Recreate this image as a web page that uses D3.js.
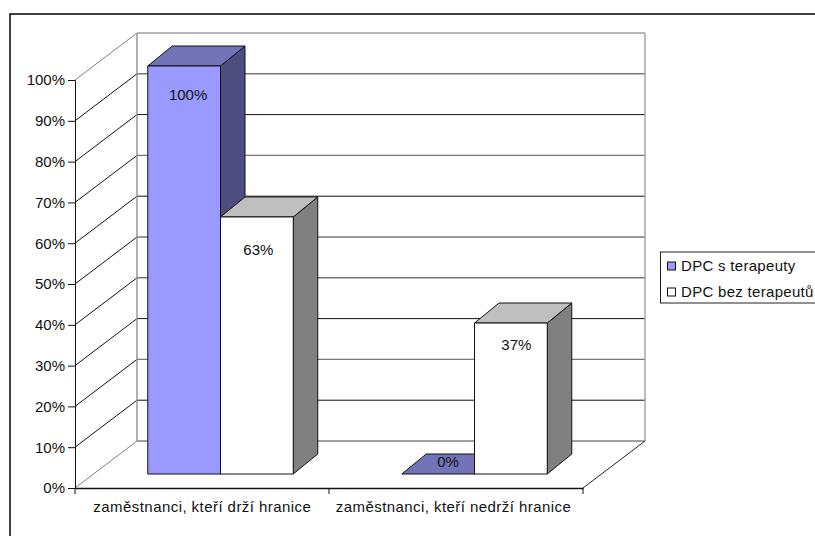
<!DOCTYPE html>
<html>
<head>
<meta charset="utf-8">
<script src="https://cdn.jsdelivr.net/npm/d3@7/dist/d3.min.js"></script>
<style>
html,body{margin:0;padding:0;background:#fff}
svg{display:block}
text{font-family:"Liberation Sans",Arial,sans-serif;fill:#111}
</style>
</head>
<body>
<svg id="chart" width="815" height="536"></svg>
<script>
const categories = ["zaměstnanci, kteří drží hranice", "zaměstnanci, kteří nedrží hranice"];
const seriesNames = ["DPC s terapeuty", "DPC bez terapeutů"];
const withTherapists = [100, 0];
const withoutTherapists = [63, 37];
const percentTicks = [0, 10, 20, 30, 40, 50, 60, 70, 80, 90, 100];
// Back-wall gridlines that render as solid dark rather than soft gray
const darkGridTicks = [10, 30, 60, 80];

// Face colours of each series: front, top, side
const faces = [
  {front: "#9999ff", top: "#7373b8", side: "#4d4d80"},
  {front: "#ffffff", top: "#bfbfbf", side: "#808080"}
];

// Oblique projection of the 3D box
const wallDx = 62, wallDy = -47;     // front plane to back wall
const barDx = 24.5, barDy = -20;     // depth of one bar
const floorDx = 18.5, floorDy = -14; // bars sit this far behind the front edge

const svg = d3.select("#chart");
const x = d3.scaleBand().domain(categories).range([75, 583]);
const y = d3.scaleLinear().domain([0, 100]).range([488, 80]);
const groupWidth = 145.5;
const xSeries = d3.scaleBand().domain(seriesNames)
  .range([(x.bandwidth() - groupWidth) / 2 + floorDx, (x.bandwidth() + groupWidth) / 2 + floorDx]);

const FS = 15;
const [plotL, plotR] = x.range();
const y0 = y(0), y100 = y(100);

// Chart frame (right and bottom edges fall outside the page)
svg.append("rect").attr("x", 10).attr("y", 14).attr("width", 900).attr("height", 600)
  .attr("fill", "#fff").attr("stroke", "#111").attr("stroke-width", 1.6);

const seg = (a, b, c, d, col, w = 1) => svg.append("line")
  .attr("x1", a).attr("y1", b).attr("x2", c).attr("y2", d)
  .attr("stroke", col).attr("stroke-width", w);

// Gridlines on the side and back walls
percentTicks.forEach(t => {
  const gray = t === 0 || t === 100;
  seg(plotL, y(t), plotL + wallDx, y(t) + wallDy, gray ? "#808080" : "#111");
  if (!gray) {
    const dark = darkGridTicks.includes(t);
    seg(plotL + wallDx, y(t) + wallDy, plotR + wallDx, y(t) + wallDy, dark ? "#111" : "#777", dark ? 1 : 1.4);
  }
});
seg(plotL + wallDx, y100 + wallDy, plotR + wallDx, y100 + wallDy, "#a0a0a0", 1.3);
seg(plotL + wallDx, y0 + wallDy, plotR + wallDx, y0 + wallDy, "#808080", 1.3);
seg(plotL + wallDx, y100 + wallDy, plotL + wallDx, y0 + wallDy, "#909090", 1.4);
seg(plotR + wallDx, y100 + wallDy, plotR + wallDx, y0 + wallDy, "#a0a0a0", 1.4);
seg(plotR, y0, plotR + wallDx, y0 + wallDy, "#222");

// Axes
const yAxis = d3.axisLeft(y).tickValues(percentTicks).tickFormat(d => d + "%").tickSize(7).tickPadding(3);
const gy = svg.append("g").attr("transform", `translate(${plotL},0)`).call(yAxis);
gy.selectAll("path,line").attr("stroke", "#111");
gy.selectAll("text").attr("font-size", FS).attr("font-family", null);

const xAxis = d3.axisBottom(x).tickSize(0).tickPadding(13);
const gx = svg.append("g").attr("transform", `translate(0,${y0})`).call(xAxis);
gx.select("path").attr("stroke", "#111").attr("stroke-width", 1.4);
gx.selectAll("text").attr("font-size", FS).attr("font-family", null)
  .attr("letter-spacing", 0.44).attr("dx", (d, i) => i === 0 ? 0.3 : -2.5);
x.domain().concat(["end"]).forEach((c, i) => {
  const px = plotL + i * x.bandwidth();
  seg(px, y0, px, y0 + 6, "#111");
});

// Bars, back to front within each category
const allValues = [withTherapists, withoutTherapists];
const labelNudge = [[[4, 29], [10, -12]], [[1.5, 33], [5.5, 22]]];
const bw = xSeries.bandwidth();
const baseY = y0 + floorDy;
const barTop = v => baseY - (y0 - y(v));

categories.forEach((c, ci) => {
  seriesNames.forEach((s, si) => {
    const v = allValues[si][ci];
    const bx = x(c) + xSeries(s), ty = barTop(v);
    const poly = (pts, fill) => svg.append("polygon")
      .attr("points", pts.map(p => p.join(",")).join(" "))
      .attr("fill", fill).attr("stroke", "#111").attr("stroke-width", 1).attr("stroke-linejoin", "round");
    poly([[bx + bw, ty], [bx + bw + barDx, ty + barDy], [bx + bw + barDx, baseY + barDy], [bx + bw, baseY]], faces[si].side);
    poly([[bx, ty], [bx + barDx, ty + barDy], [bx + bw + barDx, ty + barDy], [bx + bw, ty]], faces[si].top);
    if (v > 0) poly([[bx, ty], [bx + bw, ty], [bx + bw, baseY], [bx, baseY]], faces[si].front);
  });
});

// Value labels are drawn last so no face covers them
categories.forEach((c, ci) => {
  seriesNames.forEach((s, si) => {
    const v = allValues[si][ci];
    const [nx, ny] = labelNudge[si][ci];
    svg.append("text")
      .attr("x", x(c) + xSeries(s) + bw / 2 + nx)
      .attr("y", barTop(v) + ny)
      .attr("dy", "0.35em").attr("text-anchor", "middle").attr("font-size", FS)
      .text(v + "%");
  });
});

// Legend, cut off by the right edge of the page
const legend = svg.append("g");
legend.append("rect").attr("x", 660.5).attr("y", 252).attr("width", 200).attr("height", 51)
  .attr("fill", "#fff").attr("stroke", "#222");
seriesNames.forEach((s, i) => {
  const ly = 266 + i * 26;
  legend.append("rect").attr("x", 667.5).attr("y", ly - 4).attr("width", 8).attr("height", 8)
    .attr("fill", faces[i].front).attr("stroke", "#111").attr("stroke-width", 1);
  legend.append("text").attr("x", 681).attr("y", ly).attr("dy", "0.35em")
    .attr("font-size", FS).attr("letter-spacing", 0.3).text(s);
});
</script>
</body>
</html>
